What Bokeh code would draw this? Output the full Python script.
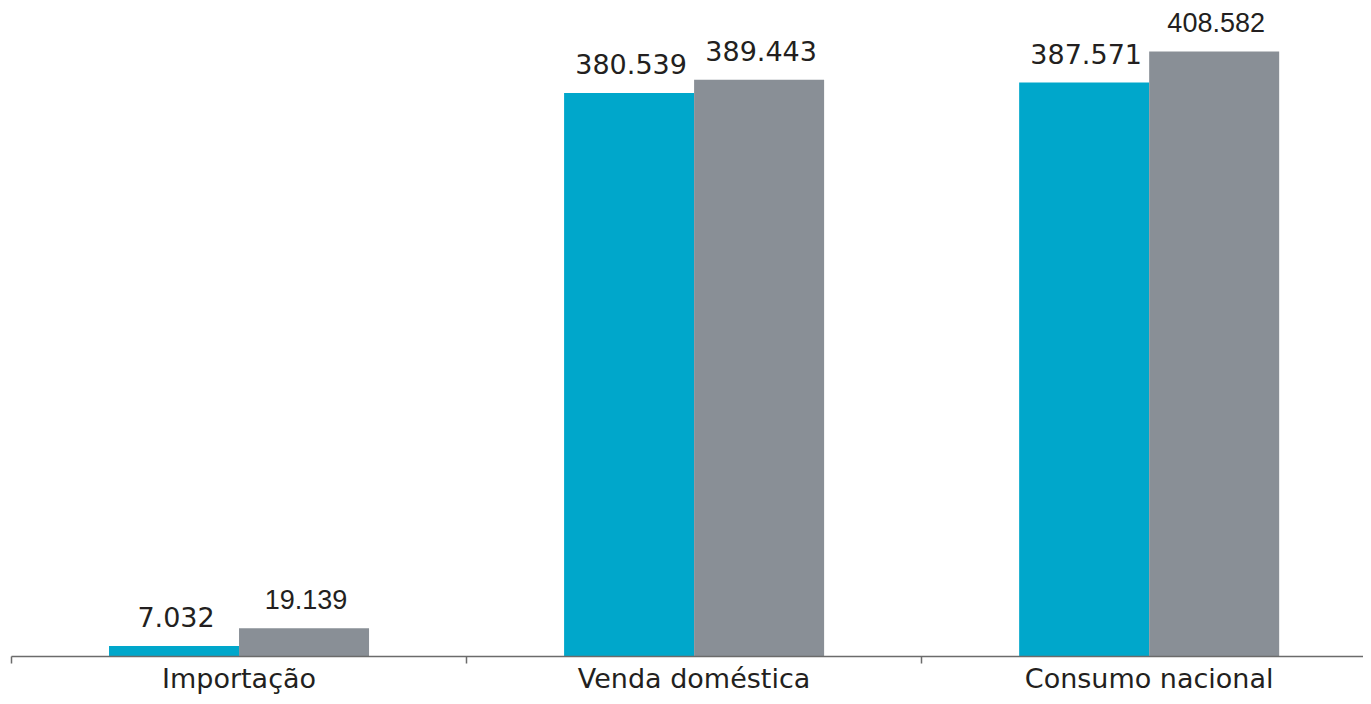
from bokeh.plotting import figure
from bokeh.models import ColumnDataSource, FixedTicker
from bokeh.embed import file_html
from bokeh.resources import INLINE

categories = ["Importação", "Venda doméstica", "Consumo nacional"]
series_a = [7.032, 380.539, 387.571]
series_b = [19.139, 389.443, 408.582]
labels_a = ["7.032", "380.539", "387.571"]
labels_b = ["19.139", "389.443", "408.582"]

fonts_a = ["DejaVu Sans", "DejaVu Sans", "DejaVu Sans"]
fonts_b = ["Liberation Sans", "DejaVu Sans", "Liberation Sans"]

color_a = "#00A7CB"
color_b = "#898F96"
bar_w = 0.2857

centers = [i + 0.5 for i in range(len(categories))]
xa = [c - bar_w / 2 for c in centers]
xb = [c + bar_w / 2 for c in centers]

p = figure(width=1363, height=696, output_backend="svg", toolbar_location=None,
           x_range=(0, 2.971), y_range=(0, 443),
           min_border_left=11, min_border_right=0, min_border_top=0, min_border_bottom=10)
p.outline_line_color = None
p.background_fill_color = "white"
p.border_fill_color = "white"
p.grid.visible = False
p.yaxis.visible = False

src_a = ColumnDataSource(dict(x=xa, top=series_a, label=labels_a, font=fonts_a))
src_b = ColumnDataSource(dict(x=xb, top=series_b, label=labels_b, font=fonts_b))

p.vbar(x="x", top="top", bottom=0, width=bar_w, source=src_a, fill_color=color_a, line_color=None)
p.vbar(x="x", top="top", bottom=0, width=bar_w, source=src_b, fill_color=color_b, line_color=None)

for src in (src_a, src_b):
    p.text(x="x", y="top", text="label", source=src, text_font="font",
           text_font_size="27px", text_align="center", text_baseline="alphabetic",
           x_offset=2, y_offset=-29, text_color="#231F20")

ax = p.xaxis[0]
ax.ticker = FixedTicker(ticks=centers, minor_ticks=[0, 1, 2, 3])
ax.major_label_overrides = {c: n for c, n in zip(centers, categories)}
ax.major_tick_line_color = None
ax.major_tick_out = 0
ax.major_tick_in = 0
ax.minor_tick_out = 7
ax.minor_tick_in = 0
ax.minor_tick_line_color = "#6b6b6b"
ax.minor_tick_line_width = 1.5
ax.axis_line_color = "#6b6b6b"
ax.axis_line_width = 1.5
ax.major_label_standoff = -1
ax.major_label_text_font = "DejaVu Sans"
ax.major_label_text_font_size = "27px"
ax.major_label_text_color = "#231F20"

open("out.html", "w").write(file_html(p, INLINE))
